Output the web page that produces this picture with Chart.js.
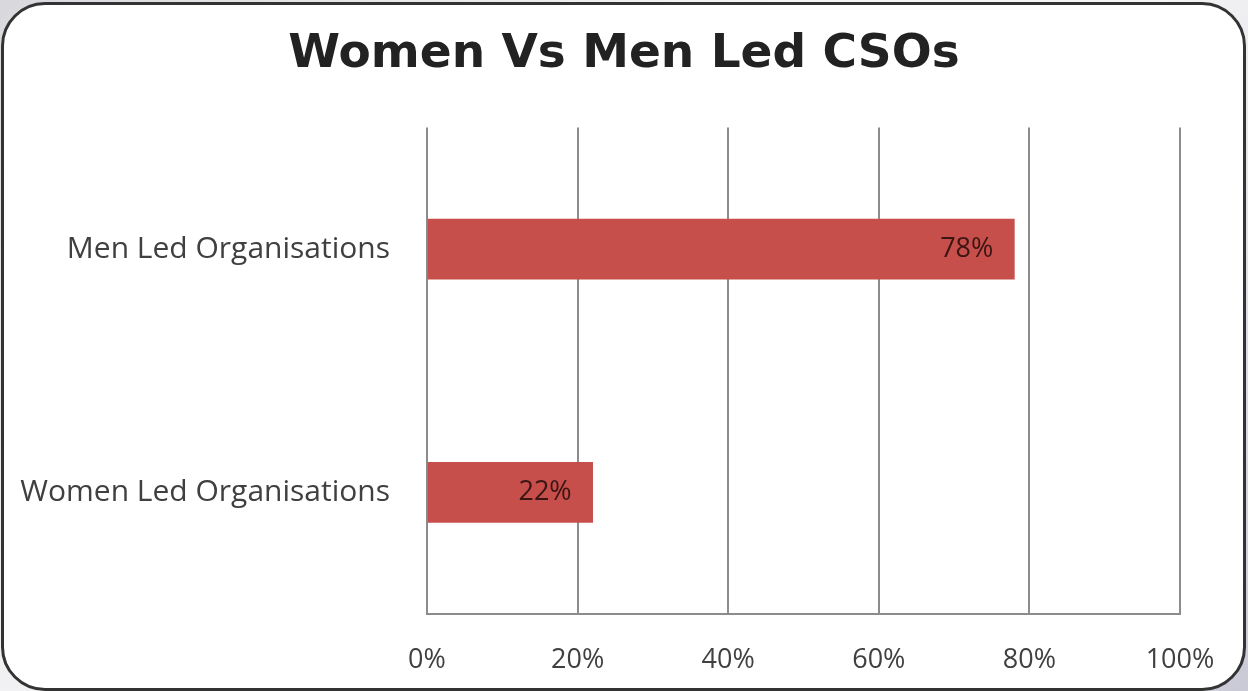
<!DOCTYPE html>
<html lang="en">
<head>
    <meta charset="UTF-8">
    <title>Women Vs Men Led CSOs</title>
    <script src="https://cdn.jsdelivr.net/npm/chart.js"></script>
    <style>
        html, body { margin: 0; padding: 0; }
        body {
            width: 1248px; height: 691px; overflow: hidden; position: relative;
            background: linear-gradient(135deg, #d9d9dd 0%, #f4f4f6 40%, #f4f4f6 60%, #c9cad6 100%);
        }
        .frame {
            position: absolute; left: 1px; top: 2px; width: 1239px; height: 683px;
            border: 3px solid #333; border-radius: 44px; background: #fff;
        }
        #barChart { position: absolute; left: 0; top: 0; }
    </style>
</head>
<body>
    <div class="frame"></div>
    <canvas id="barChart" width="1248" height="691"></canvas>

    <script>
        // Chart data
        const categories = ['Men Led Organisations', 'Women Led Organisations'];
        const shares = [78, 22];
        const tickStep = 20;
        const tickMax = 100;

        const labelFont = '"Open Sans", Lato, sans-serif';

        // Writes the percentage inside the end of each bar
        const barValueLabels = {
            id: 'barValueLabels',
            afterDatasetsDraw(chart) {
                const ctx = chart.ctx;
                const meta = chart.getDatasetMeta(0);
                ctx.save();
                ctx.font = '27px ' + labelFont;
                ctx.fillStyle = '#3b1512';
                ctx.textAlign = 'right';
                ctx.textBaseline = 'middle';
                meta.data.forEach((bar, i) => {
                    ctx.fillText(shares[i] + '%', bar.x - 21, bar.y);
                });
                ctx.restore();
            }
        };

        const ctx = document.getElementById('barChart').getContext('2d');
        new Chart(ctx, {
            type: 'bar',
            data: {
                labels: categories,
                datasets: [{
                    data: shares,
                    backgroundColor: '#c64f4c',
                    borderWidth: 0,
                    barThickness: 60
                }]
            },
            plugins: [barValueLabels],
            options: {
                indexAxis: 'y',
                responsive: false,
                animation: false,
                layout: { padding: 0 },
                plugins: {
                    legend: { display: false },
                    tooltip: { enabled: false },
                    title: {
                        display: true,
                        text: 'Women Vs Men Led CSOs',
                        color: '#222',
                        font: { family: '"DejaVu Sans"', size: 47, weight: 'bold', lineHeight: 1.2 },
                        padding: { top: 27, bottom: 44 }
                    }
                },
                scales: {
                    x: {
                        min: 0,
                        max: tickMax,
                        afterFit(scale) {
                            scale.height = 77;
                            scale.paddingLeft = 0;
                            scale.paddingRight = 68;
                        },
                        ticks: {
                            stepSize: tickStep,
                            color: '#404040',
                            padding: 30,
                            font: { family: labelFont, size: 27 },
                            callback: v => v + '%'
                        },
                        grid: { color: '#8c8c8c', lineWidth: 2, drawTicks: false },
                        border: { color: '#8c8c8c', width: 2 }
                    },
                    y: {
                        afterFit(scale) { scale.width = 427; },
                        ticks: {
                            color: '#404040',
                            padding: 37,
                            font: { family: labelFont, size: 30 }
                        },
                        grid: { display: false, drawTicks: false },
                        border: { display: false }
                    }
                }
            }
        });
    </script>
</body>
</html>
